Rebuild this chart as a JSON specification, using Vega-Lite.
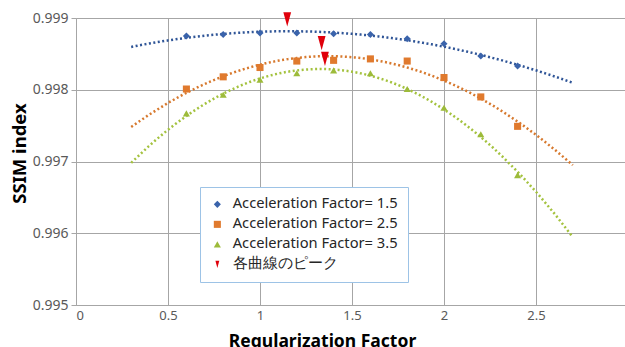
{
  "$schema": "https://vega.github.io/schema/vega-lite/v6.json",
  "width": 552,
  "height": 287,
  "autosize": "none",
  "padding": {"left": 76, "top": 18, "right": 0, "bottom": 42},
  "background": "white",
  "config": {
    "view": {"stroke": null},
    "font": "Noto Sans",
    "legend": {
      "title": null, "orient": "none", "legendX": 124, "legendY": 169,
      "strokeColor": "#9dc3e6", "fillColor": "white", "padding": 10,
      "labelFontSize": 14.7, "labelColor": "#262626", "rowPadding": 4, "labelLimit": 300,
      "labelOffset": 8
    }
  },
  "resolve": {"legend": {"color": "independent", "shape": "independent", "size": "independent"}},
  "datasets": {
    "series": [
      {"x": 0.6, "y": 0.99875, "s": "Acceleration Factor= 1.5"},
      {"x": 0.8, "y": 0.99877, "s": "Acceleration Factor= 1.5"},
      {"x": 1.0, "y": 0.99879, "s": "Acceleration Factor= 1.5"},
      {"x": 1.2, "y": 0.99879, "s": "Acceleration Factor= 1.5"},
      {"x": 1.4, "y": 0.99878, "s": "Acceleration Factor= 1.5"},
      {"x": 1.6, "y": 0.99877, "s": "Acceleration Factor= 1.5"},
      {"x": 1.8, "y": 0.99871, "s": "Acceleration Factor= 1.5"},
      {"x": 2.0, "y": 0.99864, "s": "Acceleration Factor= 1.5"},
      {"x": 2.2, "y": 0.99847, "s": "Acceleration Factor= 1.5"},
      {"x": 2.4, "y": 0.99833, "s": "Acceleration Factor= 1.5"},
      {"x": 0.6, "y": 0.99801, "s": "Acceleration Factor= 2.5"},
      {"x": 0.8, "y": 0.99818, "s": "Acceleration Factor= 2.5"},
      {"x": 1.0, "y": 0.99831, "s": "Acceleration Factor= 2.5"},
      {"x": 1.2, "y": 0.99840, "s": "Acceleration Factor= 2.5"},
      {"x": 1.4, "y": 0.99841, "s": "Acceleration Factor= 2.5"},
      {"x": 1.6, "y": 0.99843, "s": "Acceleration Factor= 2.5"},
      {"x": 1.8, "y": 0.99840, "s": "Acceleration Factor= 2.5"},
      {"x": 2.0, "y": 0.99817, "s": "Acceleration Factor= 2.5"},
      {"x": 2.2, "y": 0.99790, "s": "Acceleration Factor= 2.5"},
      {"x": 2.4, "y": 0.99749, "s": "Acceleration Factor= 2.5"},
      {"x": 0.6, "y": 0.99767, "s": "Acceleration Factor= 3.5"},
      {"x": 0.8, "y": 0.99793, "s": "Acceleration Factor= 3.5"},
      {"x": 1.0, "y": 0.99814, "s": "Acceleration Factor= 3.5"},
      {"x": 1.2, "y": 0.99823, "s": "Acceleration Factor= 3.5"},
      {"x": 1.4, "y": 0.99827, "s": "Acceleration Factor= 3.5"},
      {"x": 1.6, "y": 0.99823, "s": "Acceleration Factor= 3.5"},
      {"x": 1.8, "y": 0.99801, "s": "Acceleration Factor= 3.5"},
      {"x": 2.0, "y": 0.99775, "s": "Acceleration Factor= 3.5"},
      {"x": 2.2, "y": 0.99738, "s": "Acceleration Factor= 3.5"},
      {"x": 2.4, "y": 0.99681, "s": "Acceleration Factor= 3.5"}
    ],
    "peaks": [
      {"x": 1.148, "y": 0.99898, "s": "各曲線のピーク"},
      {"x": 1.335, "y": 0.99865, "s": "各曲線のピーク"},
      {"x": 1.353, "y": 0.99843, "s": "各曲線のピーク"}
    ]
  },
  "layer": [
    {
      "data": {"name": "series"},
      "transform": [
        {"regression": "y", "on": "x", "groupby": ["s"], "method": "poly", "order": 2, "extent": [0.3, 2.7]}
      ],
      "mark": {"type": "line", "strokeWidth": 2.5, "strokeDash": [2, 2.5], "clip": true},
      "encoding": {
        "x": {"field": "x", "type": "quantitative"},
        "y": {"field": "y", "type": "quantitative"},
        "stroke": {
          "field": "s", "type": "nominal", "legend": null,
          "scale": {"domain": ["Acceleration Factor= 1.5", "Acceleration Factor= 2.5", "Acceleration Factor= 3.5"], "range": ["#2f5597", "#d7792e", "#a4c23e"]}
        }
      }
    },
    {
      "data": {"name": "series"},
      "mark": {"type": "point", "filled": true, "opacity": 1},
      "encoding": {
        "x": {
          "field": "x", "type": "quantitative",
          "scale": {"domain": [0, 3], "nice": false},
          "axis": {
            "values": [0, 0.5, 1, 1.5, 2, 2.5], "format": "~g",
            "title": "Regularization Factor",
            "titleFontSize": 17.5, "titleFontWeight": "bold", "titleColor": "#000000",
            "titleX": 246, "titleY": 41, "titleBaseline": "alphabetic",
            "labelFontSize": 13, "labelColor": "#595959", "labelPadding": 4,
            "gridColor": "#a6a6a6", "gridWidth": 1, "domainColor": "#a6a6a6",
            "ticks": false
          }
        },
        "y": {
          "field": "y", "type": "quantitative",
          "scale": {"domain": [0.995, 0.999], "nice": false, "zero": false},
          "axis": {
            "values": [0.995, 0.996, 0.997, 0.998, 0.999], "format": ".3f",
            "title": "SSIM index",
            "titleFontSize": 18.5, "titleFontWeight": "bold", "titleColor": "#000000",
            "titleX": -51, "titleY": 135, "titleAngle": -90, "titleBaseline": "alphabetic",
            "labelFontSize": 14, "labelColor": "#595959", "labelPadding": 3,
            "gridColor": "#a6a6a6", "gridWidth": 1, "domainColor": "#a6a6a6",
            "tickColor": "#a6a6a6", "tickSize": 5
          }
        },
        "shape": {
          "field": "s", "type": "nominal",
          "scale": {
            "domain": ["Acceleration Factor= 1.5", "Acceleration Factor= 2.5", "Acceleration Factor= 3.5", "各曲線のピーク"],
            "range": ["diamond", "square", "triangle-up", "M-0.55,-1L0.55,-1L0,1Z"]
          },
          "legend": {"labelExpr": "datum.label == '各曲線のピーク' ? '\u00a0\u00a0\u00a0\u00a0' + datum.label : datum.label"}
        },
        "color": {
          "field": "s", "type": "nominal",
          "scale": {
            "domain": ["Acceleration Factor= 1.5", "Acceleration Factor= 2.5", "Acceleration Factor= 3.5", "各曲線のピーク"],
            "range": ["#3a63ab", "#e07a2e", "#9dbb3a", "#e0000b"]
          },
          "legend": {"labelExpr": "datum.label == '各曲線のピーク' ? '\u00a0\u00a0\u00a0\u00a0' + datum.label : datum.label"}
        },
        "size": {
          "field": "s", "type": "nominal",
          "scale": {
            "domain": ["Acceleration Factor= 1.5", "Acceleration Factor= 2.5", "Acceleration Factor= 3.5", "各曲線のピーク"],
            "range": [50, 50, 50, 220]
          },
          "legend": {"labelExpr": "datum.label == '各曲線のピーク' ? '\u00a0\u00a0\u00a0\u00a0' + datum.label : datum.label"}
        }
      }
    },
    {
      "data": {"name": "peaks"},
      "mark": {"type": "point", "filled": true, "opacity": 1, "shape": "M-0.55,-1L0.55,-1L0,1Z", "size": 200, "color": "#e0000b"},
      "encoding": {
        "x": {"field": "x", "type": "quantitative"},
        "y": {"field": "y", "type": "quantitative"}
      }
    }
  ]
}
